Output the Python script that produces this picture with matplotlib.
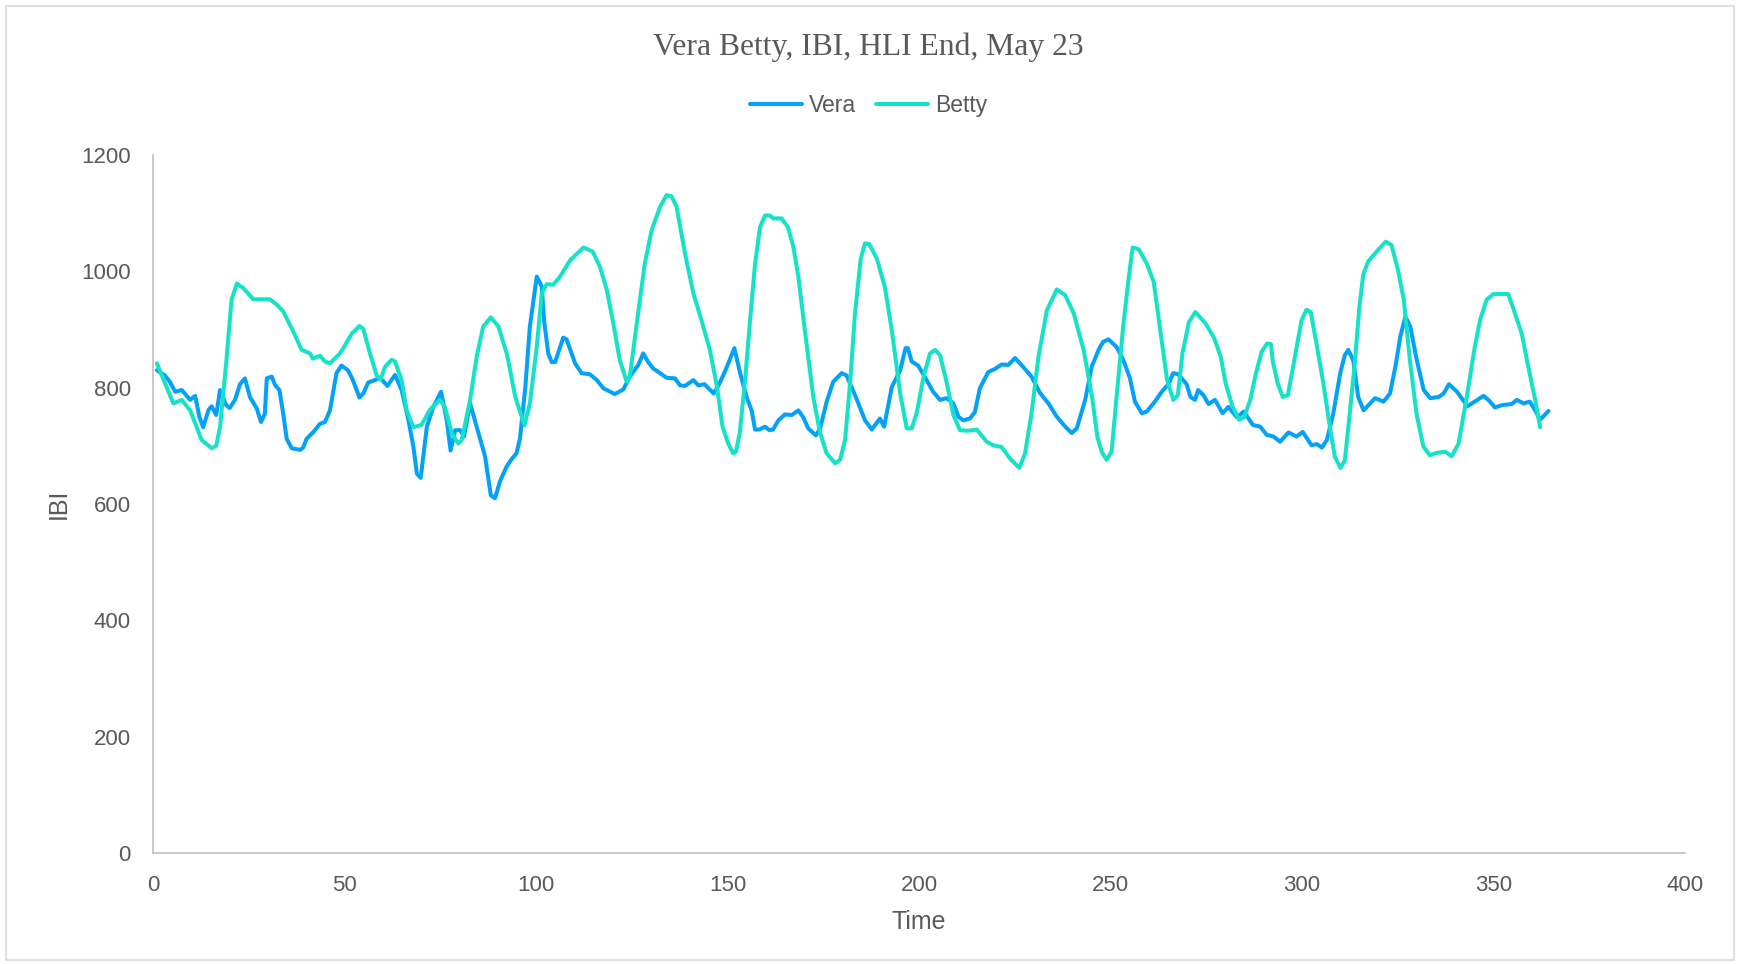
import matplotlib
matplotlib.use("Agg")
import matplotlib.pyplot as plt
from matplotlib.patches import Rectangle

# values
vera_time = [1, 3.1, 4.4, 5.8, 7.5, 9.7, 11, 12.1, 13.1, 14.5, 15.3, 16.5, 17.5, 19.1, 20, 21.4,
             22.7, 24, 25.3, 27.1, 28.2, 29.2, 29.7, 31, 31.9, 33, 34, 34.9, 36.2, 38.4, 39.2,
             40.1, 41.9, 43.6, 44.9, 46.2, 47.9, 49.2, 50.9, 52.2, 53.9, 54.9, 56.2, 57.5, 59.3,
             61.2, 63.2, 64.9, 66.7, 68, 68.9, 69.9, 71.5, 73.2, 75.2, 76.7, 77.7, 78.9, 80.2,
             81.2, 82.8, 84.5, 86.7, 88.2, 89.3, 90.6, 92.3, 93.6, 94.9, 95.8, 97.2, 98.4, 100.2,
             101.5, 102.1, 103.2, 104.1, 105, 107.1, 108, 110.2, 111.9, 114.1, 115.9, 117.6,
             120.6, 122.8, 124.5, 126.7, 128, 129.3, 130.6, 132.4, 134.1, 136.3, 137.6, 138.9,
             141.1, 142.4, 144, 146.4, 147.8, 149.3, 151.8, 153.3, 155, 156.3, 157.2, 158.3,
             159.8, 160.9, 161.9, 163.3, 165, 166.8, 168.5, 169.8, 171.1, 173.1, 174.2, 175.9,
             177.6, 179.8, 181.1, 183.7, 185.9, 187.7, 189.8, 190.9, 192.9, 195.1, 196.5, 197.1,
             198.1, 199.8, 202, 203.7, 205.5, 207.2, 209, 210.3, 211.6, 213.3, 214.6, 215.9,
             218.1, 219.8, 221.6, 223.3, 225.1, 227.3, 229.4, 231.6, 233.8, 236, 238.2, 239.9,
             241.2, 243.4, 245.1, 246.9, 248.1, 249.5, 251.6, 253.4, 255.1, 256.4, 258.2, 259.5,
             261.6, 263.4, 265.1, 266.4, 267.7, 269.9, 270.9, 272.1, 272.9, 274.3, 275.6, 277.3,
             279.3, 280.8, 283, 284.8, 287.2, 289.1, 290.8, 292.6, 294.3, 296.5, 298.6, 300.2,
             302.5, 303.9, 305.2, 306.5, 308.2, 310, 311.2, 312.1, 313.4, 314.7, 316.1, 317.4,
             319.1, 321.3, 323, 324.4, 325.7, 327, 328.3, 330, 331.8, 333.5, 335.7, 337, 338.4,
             340.5, 343.2, 345.6, 347.4, 348.7, 350.4, 352.2, 354.8, 356.1, 357.9, 359.5, 360.9,
             362.2, 364.4]
vera_ibi = [830, 821, 810, 793, 796, 779, 786, 750, 732, 762, 768, 753, 796, 770, 765, 779,
            806, 816, 784, 764, 741, 755, 816, 819, 804, 796, 755, 712, 696, 693, 697,
            712, 724, 738, 741, 761, 825, 838, 830, 813, 783, 790, 809, 812, 817,
            803, 822, 796, 744, 698, 652, 645, 733, 767, 793, 744, 692, 727, 727,
            716, 773, 733, 682, 615, 610, 639, 664, 677, 687, 712, 800, 905, 991,
            974, 916, 859, 844, 844, 886, 883, 842, 825, 823, 813, 799,
            789, 797, 819, 839, 859, 844, 833, 825, 817, 816, 804, 803,
            813, 804, 806, 790, 806, 827, 868, 825, 784, 761, 728, 728,
            733, 727, 728, 744, 754, 753, 761, 749, 730, 718, 730, 776,
            810, 825, 821, 781, 744, 728, 747, 733, 801, 830, 868, 868,
            845, 838, 813, 793, 779, 782, 773, 750, 744, 747, 758, 799,
            827, 832, 840, 839, 851, 835, 819, 791, 773, 750, 733, 722,
            730, 779, 836, 865, 879, 883, 870, 847, 816, 776, 756, 759,
            776, 793, 806, 825, 823, 806, 784, 779, 796, 787, 772, 779,
            756, 767, 749, 759, 736, 733, 719, 716, 707, 723, 716, 724,
            701, 703, 697, 710, 756, 825, 856, 865, 847, 784, 761, 770,
            782, 776, 790, 836, 888, 922, 905, 847, 796, 782, 784, 790, 806,
            793, 768, 778, 786, 779, 766, 770, 772, 779, 773, 776, 761,
            745, 760]

betty_time = [1, 5.3, 7.5, 9.7, 12.7, 15.3, 16.5, 17.5, 19.1, 20.5, 21.9, 23.6, 26.2, 30.5, 32.3,
              34, 36.6, 38.8, 41, 41.7, 43.6, 44.9, 46.2, 48.7, 49.7, 51.9, 53.9, 54.9, 56.7,
              58.4, 59.4, 60.6, 62.3, 63.2, 64.9, 66.2, 68, 70.1, 72.3, 74.9, 76.2, 78, 79.7,
              80.6, 82.8, 84.5, 86.2, 88.2, 90.2, 92.4, 94.6, 97, 98.4, 100.2, 101.5, 102.8,
              104.5, 106.3, 108.9, 112.4, 114.8, 116.7, 118.5, 120.2, 121.9, 123.7, 124.5, 126.3,
              128.4, 130.2, 132.4, 134.1, 135.4, 136.7, 138.9, 141.1, 143.2, 145.4, 147.2, 148.7,
              150.2, 151.5, 152.2, 153.2, 154.6, 155.9, 157.2, 158.5, 159.8, 161.1, 161.9, 164.1,
              165.8, 167.2, 168.5, 170.2, 172.4, 174.2, 175.9, 178.1, 179.4, 180.7, 182, 183.3,
              184.8, 185.9, 187, 189, 191.1, 192.9, 195.1, 196.8, 198.1, 199.4, 201.2, 202.9,
              204.2, 205.5, 207.2, 209, 210.7, 212.9, 215.1, 217.7, 219.4, 221.6, 223.8, 226.2,
              227.7, 229.4, 231.2, 233.4, 236, 238.2, 240.4, 243, 245.2, 246.6, 247.7, 249, 250.3,
              251.6, 253.4, 254.7, 255.8, 257.4, 259.5, 261.3, 263, 264.8, 266.4, 267.6, 268.8,
              270.5, 272.2, 274.9, 277.1, 278.8, 280.1, 281.9, 283.6, 284.9, 286.5, 288, 289.5,
              290.9, 291.9, 292.4, 293.7, 295, 296.3, 297.7, 299.9, 301.2, 302.3, 303.8, 305.6,
              307.3, 308.6, 310.1, 311.2, 312.5, 313.8, 315, 316, 317.3, 319.5, 321.9, 323.4,
              325.1, 326.6, 328.2, 329.9, 331.7, 333.4, 335.2, 337.4, 339.1, 340.9, 343.2, 345,
              346.5, 348.2, 350, 353.9, 355.6, 357.4, 359.1, 360.9, 362.2]
betty_ibi = [842, 773, 779, 761, 710, 696, 700, 733, 842, 951, 979, 971, 952, 952, 943,
             931, 897, 865, 859, 850, 855, 845, 842, 858, 868, 893, 906, 901, 858,
             821, 814, 836, 848, 845, 813, 762, 732, 736, 762, 779, 767, 722, 704,
             710, 779, 853, 905, 921, 905, 858, 784, 735, 773, 870, 962, 978,
             977, 991, 1019, 1041, 1034, 1008, 968, 910, 847, 810, 819, 910,
             1013, 1071, 1111, 1131, 1129, 1111, 1031, 962, 916, 865, 804, 733,
             704, 687, 690, 722, 813, 916, 1013, 1076, 1096, 1096, 1091, 1091,
             1076, 1042, 991, 899, 784, 722, 687, 670, 676, 710, 807, 928,
             1022, 1048, 1047, 1022, 973, 899, 790, 730, 730, 756, 819, 859,
             865, 856, 810, 753, 727, 726, 728, 707, 701, 698, 678, 662,
             687, 756, 853, 933, 969, 959, 928, 865, 784, 715, 690, 676, 690,
             784, 910, 985, 1041, 1038, 1013, 982, 899, 813, 779, 787, 859,
             913, 930, 910, 885, 853, 807, 767, 745, 749, 779, 825, 862,
             876, 875, 845, 807, 784, 787, 836, 916, 934, 930, 876, 807,
             733, 681, 662, 675, 756, 842, 939, 994, 1017, 1034, 1051, 1045,
             1002, 951, 847, 756, 699, 684, 688, 690, 682, 704, 790, 865,
             916, 951, 961, 961, 928, 893, 836, 779, 732]

x_ticks = [0, 50, 100, 150, 200, 250, 300, 350, 400]
y_ticks = [0, 200, 400, 600, 800, 1000, 1200]

TEXT = '#595959'
GRID = '#BFBFBF'

fig = plt.figure(figsize=(17.37, 9.64), dpi=100)
ax = fig.add_axes([0.0881, 0.1151, 0.8819, 0.7241])

ax.plot(vera_time, vera_ibi, color='#03A2F8', linewidth=2.9, label='Vera',
        solid_joinstyle='round', solid_capstyle='round')
ax.plot(betty_time, betty_ibi, color='#16E2C8', linewidth=2.9, label='Betty',
        solid_joinstyle='round', solid_capstyle='round')

ax.set_xlim(0, 400)
ax.set_ylim(0, 1200)
ax.set_xticks(x_ticks)
ax.set_yticks(y_ticks)
ax.tick_params(length=0, labelsize=16, labelcolor=TEXT)
ax.tick_params(axis='x', pad=16)
ax.tick_params(axis='y', pad=16)
for lab in ax.get_xticklabels() + ax.get_yticklabels():
    lab.set_family('Liberation Sans')

for side in ['top', 'right']:
    ax.spines[side].set_visible(False)
for side in ['left', 'bottom']:
    ax.spines[side].set_color(GRID)
    ax.spines[side].set_linewidth(1.2)

ax.set_xlabel('Time', fontsize=18, color=TEXT, family='Liberation Sans', labelpad=10)
ax.set_ylabel('IBI', fontsize=18, color=TEXT, family='Liberation Sans', labelpad=7.5)

fig.text(0.5, 0.9505, 'Vera Betty, IBI, HLI End, May 23', ha='center', va='center',
         fontsize=22.8, color=TEXT, family='Liberation Serif')

leg = fig.legend(loc='center', bbox_to_anchor=(0.5, 0.891), ncol=2, frameon=False,
                 prop={'family': 'Liberation Sans', 'size': 16.5}, handlelength=2.25,
                 handletextpad=0.3, columnspacing=0.9)
for t in leg.get_texts():
    t.set_color(TEXT)

# thin chart-area border
fig.patches.append(Rectangle((0.0035, 0.004), 0.9945, 0.99, transform=fig.transFigure,
                             fill=False, edgecolor='#D9D9D9', linewidth=1.2))

fig.savefig('out.png', dpi=100)
